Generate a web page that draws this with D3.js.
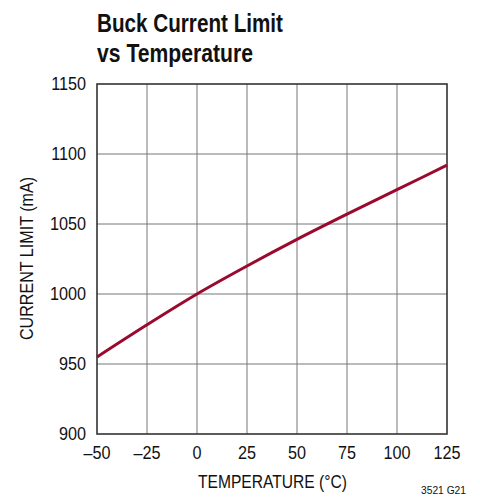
<!DOCTYPE html>
<html>
<head>
<meta charset="utf-8">
<script src="https://cdn.jsdelivr.net/npm/d3@7"></script>
<style>
  body { margin: 0; background: #fff; }
  text { font-family: "Liberation Sans Narrow", "Liberation Sans", Arial, sans-serif; fill: #111; }
</style>
</head>
<body>
<svg id="chart" width="480" height="500"></svg>
<script>
// data
const temps = [-50, -25, 0, 25, 50, 75, 100, 125]
const currentLimit = [955, 978, 1000, 1020, 1039, 1057, 1074.5, 1092]
const xTicks = [-50, -25, 0, 25, 50, 75, 100, 125]
const yTicks = [900, 950, 1000, 1050, 1100, 1150]

const svg = d3.select("#chart")
const plotLeft = 97, plotRight = 447, plotTop = 84, plotBottom = 434

const x = d3.scaleLinear().domain([-50, 125]).range([plotLeft, plotRight])
const y = d3.scaleLinear().domain([900, 1150]).range([plotBottom, plotTop])

// squeeze text to look like the condensed face of the original
const condense = (sel, k) => sel.each(function () {
    const w = this.getComputedTextLength()
    d3.select(this).attr("textLength", w * k).attr("lengthAdjust", "spacingAndGlyphs")
})
const fitTo = (sel, w) => sel.attr("textLength", w).attr("lengthAdjust", "spacingAndGlyphs")

// title
svg.append("text")
    .attr("x", 97).attr("y", 32)
    .attr("font-size", 26).attr("font-weight", "bold")
    .text("Buck Current Limit")
    .call(fitTo, 186)
svg.append("text")
    .attr("x", 97).attr("y", 62)
    .attr("font-size", 26).attr("font-weight", "bold")
    .text("vs Temperature")
    .call(fitTo, 156)

// grid
svg.append("g")
    .selectAll("line")
    .data(xTicks.slice(1, -1))
    .enter()
    .append("line")
    .attr("x1", d => x(d)).attr("x2", d => x(d))
    .attr("y1", plotTop).attr("y2", plotBottom)
    .attr("stroke", "#777").attr("stroke-width", 1)
svg.append("g")
    .selectAll("line")
    .data(yTicks.slice(1, -1))
    .enter()
    .append("line")
    .attr("y1", d => y(d)).attr("y2", d => y(d))
    .attr("x1", plotLeft).attr("x2", plotRight)
    .attr("stroke", "#777").attr("stroke-width", 1)

// frame
svg.append("rect")
    .attr("x", plotLeft).attr("y", plotTop)
    .attr("width", plotRight - plotLeft).attr("height", plotBottom - plotTop)
    .attr("fill", "none").attr("stroke", "#333").attr("stroke-width", 1.6)

// curve
const line = d3.line()
    .x((d, i) => x(temps[i]))
    .y(d => y(d))
    .curve(d3.curveMonotoneX)
svg.append("path")
    .datum(currentLimit)
    .attr("d", line)
    .attr("fill", "none")
    .attr("stroke", "#9a0a2f")
    .attr("stroke-width", 3)

// tick labels
svg.append("g")
    .selectAll("text")
    .data(xTicks)
    .enter()
    .append("text")
    .attr("x", d => x(d))
    .attr("y", 459)
    .attr("text-anchor", "middle")
    .attr("font-size", 18)
    .text(d => d < 0 ? "\u2013" + Math.abs(d) : d)
    .call(condense, 0.9)
svg.append("g")
    .selectAll("text")
    .data(yTicks)
    .enter()
    .append("text")
    .attr("x", 86)
    .attr("y", d => y(d) + 6)
    .attr("text-anchor", "end")
    .attr("font-size", 18)
    .text(d => d)
    .call(condense, 0.9)

// axis titles
svg.append("text")
    .attr("x", 272.5)
    .attr("y", 488)
    .attr("text-anchor", "middle")
    .attr("font-size", 18)
    .text("TEMPERATURE (°C)")
    .call(fitTo, 149)
svg.append("text")
    .attr("transform", "translate(33,258.5) rotate(-90)")
    .attr("text-anchor", "middle")
    .attr("font-size", 18)
    .text("CURRENT LIMIT (mA)")
    .call(fitTo, 163)

svg.append("text")
    .attr("x", 466)
    .attr("y", 494)
    .attr("text-anchor", "end")
    .attr("font-size", 10.5)
    .text("3521 G21")
    .call(fitTo, 45)
</script>
</body>
</html>
